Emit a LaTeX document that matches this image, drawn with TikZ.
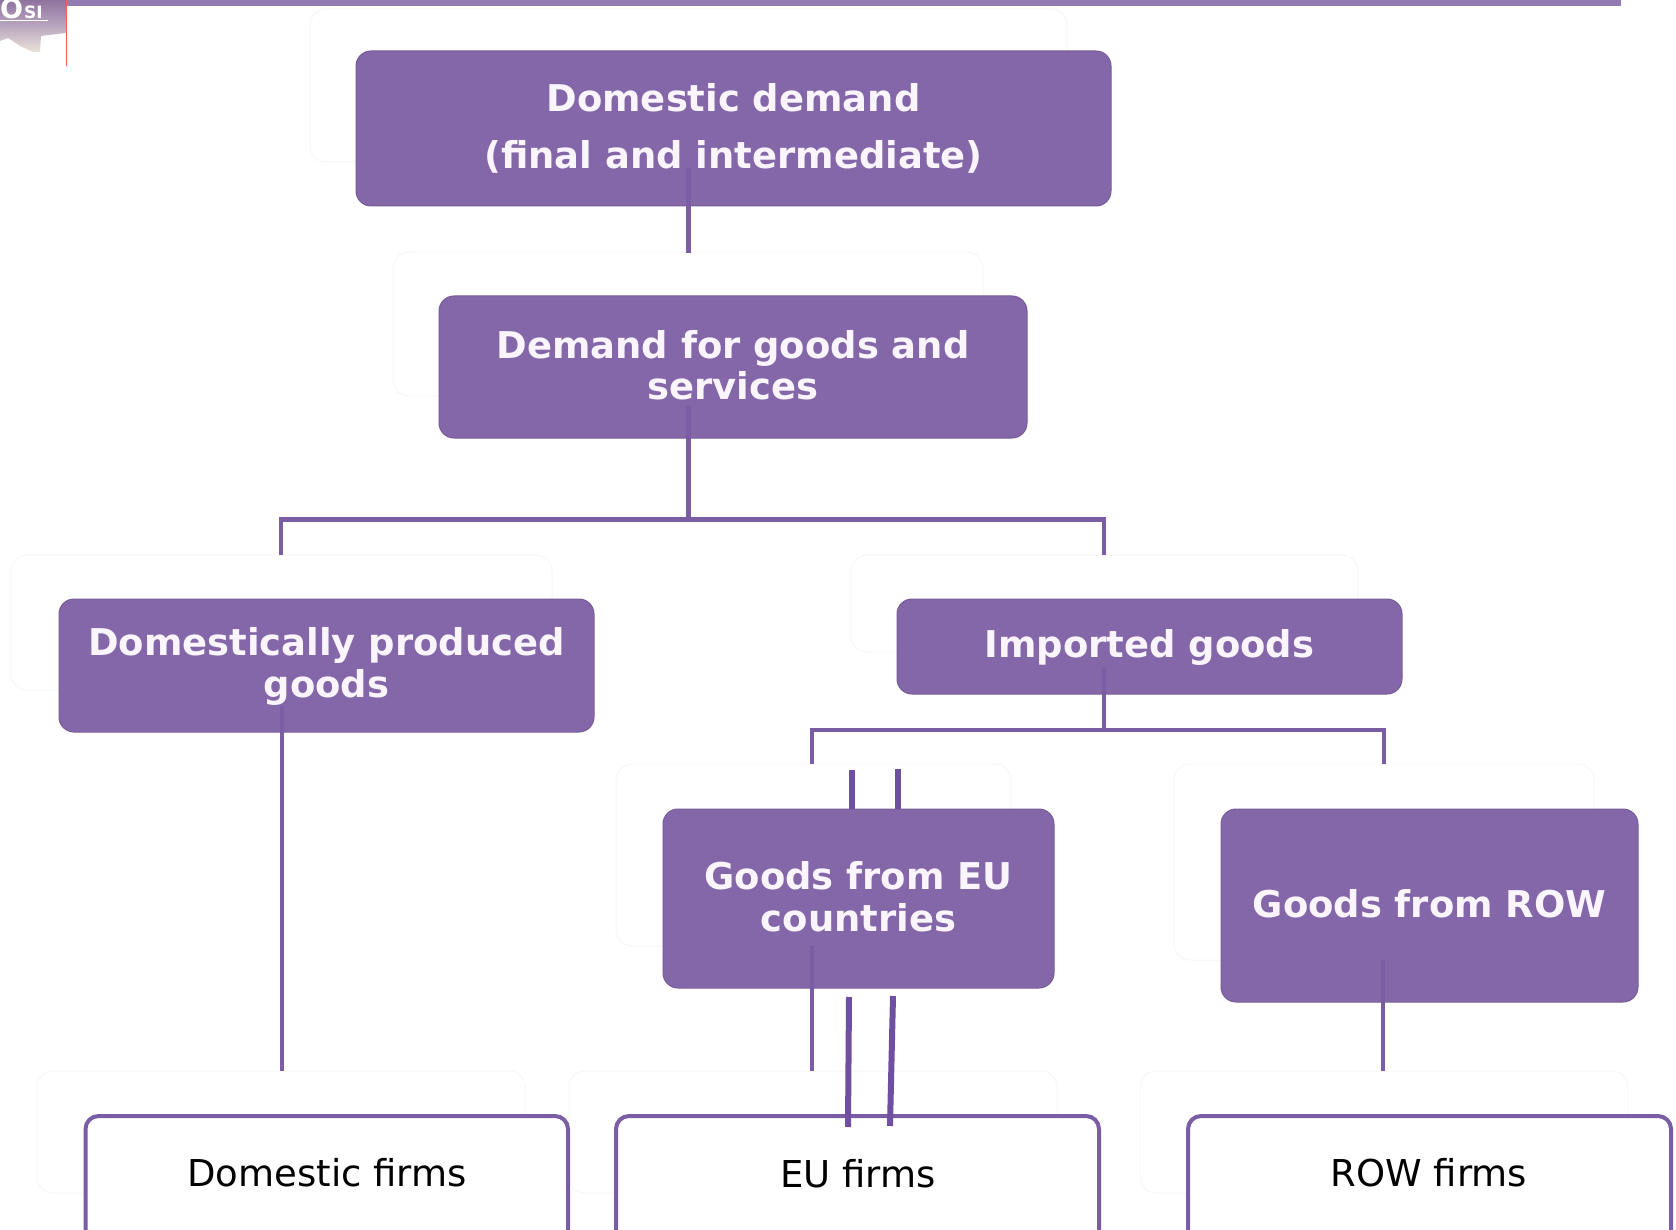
\documentclass[tikz,border=0pt]{standalone}
\usepackage{fontspec}
\setmainfont{DejaVu Sans}
\definecolor{boxpurple}{HTML}{8467A8}
\definecolor{linepurple}{HTML}{7B5DA6}
\definecolor{darkline}{HTML}{6E4FA0}
\definecolor{barpurple}{HTML}{927BB3}
\definecolor{ghostline}{HTML}{F7F7F7}
\definecolor{boxtext}{HTML}{FAF4FD}
\definecolor{logotop}{HTML}{8F739F}
\definecolor{logomid}{HTML}{B9A6BF}
\definecolor{logolow}{HTML}{EAE2D8}
\newcommand{\st}{\rule[-6pt]{0pt}{36pt}}
\tikzset{
  x=1pt,y=-1pt,
  purplebox/.style={draw=boxpurple!90!black,line width=1pt,fill=boxpurple,rounded corners=15pt,inner sep=0pt,align=center,text=boxtext,font=\fontsize{36.9}{41.5}\selectfont\bfseries},
  whitebox/.style={draw=linepurple,line width=4pt,fill=white,rounded corners=13pt,inner sep=0pt,text=black},
  firmtext/.style={text=black,font=\fontsize{37}{42}\selectfont},
  ghost/.style={draw=ghostline,line width=1pt,rounded corners=16pt,inner sep=0pt},
  link/.style={draw=linepurple,line width=4.5pt},
  dlink/.style={draw=darkline,line width=6pt},
}
\newcommand{\boxat}[7]{% style,name,x1,y1,x2,y2,text
  \node[#1,minimum width={#5-#3},minimum height={#6-#4}] (#2) at ({(#3+#5)/2*1pt},{-(#4+#6)/2*1pt}) {#7};}
\begin{document}
\begin{tikzpicture}
\useasboundingbox (0,0) rectangle (1676,1230);
\fill[white] (0,0) rectangle (1676,1230);
% header
\fill[barpurple] (66,0) rectangle (1621,6);
\shade[top color=logotop,bottom color=logolow,middle color=logomid] (0,0) -- (66,0) -- (66,33) -- (41,36) -- (40,52) -- (33,52) -- (20,46) -- (8,38) -- (0,41) -- cycle;
\draw[red!65!white,line width=1pt] (66,0) -- (66,66);
\node[text=white,font=\fontsize{27}{27}\selectfont\bfseries,anchor=base west,inner sep=0pt] (logo) at (0,19) {O\kern1pt{\fontsize{17}{17}\selectfont SI}};
\draw[white,line width=1pt] (0,20.5) -- (48,20.5);
% ghost outlines
\boxat{ghost}{g1}{310}{9}{1067}{162}{}
\boxat{ghost}{g2}{393}{252}{983}{396}{}
\boxat{ghost}{g3}{11}{555}{552}{690}{}
\boxat{ghost}{g4}{851}{555}{1358}{652}{}
\boxat{ghost}{g5}{616}{764}{1011}{946}{}
\boxat{ghost}{g6}{1174}{764}{1594}{960}{}
\boxat{ghost}{g7}{37}{1071}{525}{1193}{}
\boxat{ghost}{g8}{569}{1071}{1057}{1193}{}
\boxat{ghost}{g9}{1140}{1071}{1628}{1193}{}
% boxes
\boxat{purplebox}{demand}{356}{51}{1111}{206}{\st Domestic demand\\[15.5pt]\st (final and intermediate)}
\boxat{purplebox}{goods}{439}{296}{1027}{438}{\st Demand for goods and\\\st services}
\boxat{purplebox}{domprod}{59}{599}{594}{732}{\st Domestically produced\\\st goods}
\boxat{purplebox}{imported}{897}{599}{1402}{694}{\st Imported goods}
\boxat{purplebox}{eugoods}{663}{809}{1054}{988}{\st Goods from EU\\\st countries}
\boxat{purplebox}{rowgoods}{1221}{809}{1638}{1002}{\st Goods from ROW}
\boxat{whitebox}{domfirms}{85.5}{1116}{568}{1262}{}
\boxat{whitebox}{eufirms}{616}{1116}{1099}{1262}{}
\boxat{whitebox}{rowfirms}{1188}{1116}{1671}{1262}{}
\node[firmtext] (tdom) at (327,1173) {Domestic firms};
\node[firmtext] (teu) at (858,1174) {EU firms};
\node[firmtext] (trow) at (1429,1173) {ROW firms};
% junctions
\coordinate (jtop) at (688.5,519.5);
\coordinate (jimp) at (1104,730);
% connectors
\draw[link] (688.5,168) -- (688.5,253);
\draw[link] (688.5,406) -- (jtop);
\draw[link,line join=miter] (281,555) -- (281,519.5) -- (jtop) -- (1104,519.5) -- (1104,555);
\draw[link] (1104,668) -- (jimp);
\draw[link] (812,764) -- (812,730) -- (jimp) -- (1384,730) -- (1384,764);
\draw[link] (282,706) -- (282,1071);
\draw[link] (812,946) -- (812,1071);
\draw[link] (1383,960) -- (1383,1071);
\draw[dlink] (852,770) -- (852,809);
\draw[dlink] (898,769) -- (898,809);
\draw[dlink] (849,997) -- (848,1127);
\draw[dlink] (893,996) -- (890,1126);
\end{tikzpicture}
\end{document}
